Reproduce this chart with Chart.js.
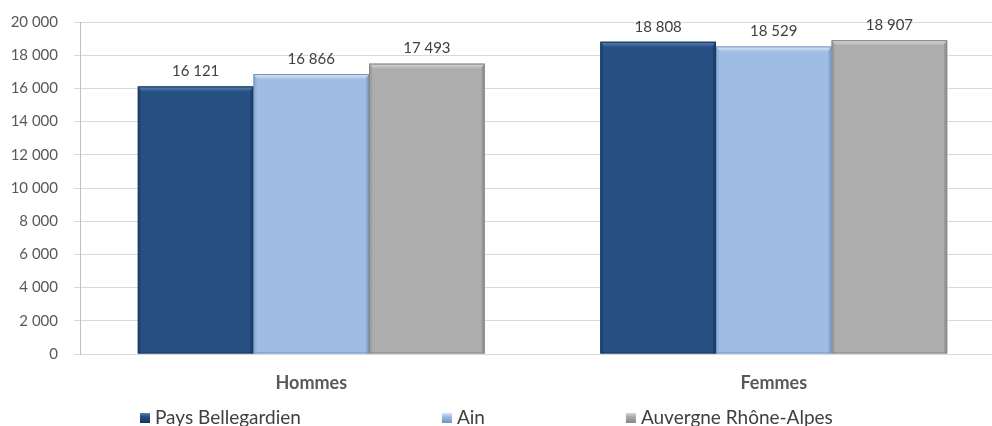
<!DOCTYPE html>
<html>
<head>
<meta charset="utf-8">
<script src="https://cdn.jsdelivr.net/npm/chart.js@4/dist/chart.umd.min.js"></script>
<style>
  html, body { margin: 0; padding: 0; background: #ffffff; overflow: hidden; }
  #wrap { position: relative; width: 1010px; height: 426px; }
</style>
</head>
<body>
<div id="wrap"><canvas id="c" width="1010" height="426"></canvas></div>
<script>
// Revenu médian par sexe (euros)
const categories = ['Hommes', 'Femmes'];
const seriesNames = ['Pays Bellegardien', 'Ain', 'Auvergne Rhône-Alpes'];
const paysBellegardien = [16121, 18808];
const ain = [16866, 18529];
const auvergneRhoneAlpes = [17493, 18907];
const yTicks = [0, 2000, 4000, 6000, 8000, 10000, 12000, 14000, 16000, 18000, 20000];

const fill = ['#264f82', '#9fbde3', '#adadad'];
const light = ['#5a82b6', '#dbe8f8', '#d8d8d8'];
const dark = ['#17345a', '#7394c0', '#858585'];

const fmt = v => String(Math.round(v)).replace(/\B(?=(\d{3})+(?!\d))/g, '\u00a0');
const FONT = 'Lato, Calibri, sans-serif';

// Bevel shading on top of each bar
const bevel = {
  id: 'bevel',
  afterDatasetsDraw(chart) {
    const ctx = chart.ctx;
    chart.data.datasets.forEach((ds, i) => {
      chart.getDatasetMeta(i).data.forEach(bar => {
        const l = bar.x - bar.width / 2, r = bar.x + bar.width / 2;
        const t = bar.y, b = bar.base;
        ctx.save();
        // top highlight strip
        const g = ctx.createLinearGradient(0, t, 0, t + 6);
        g.addColorStop(0, light[i]);
        g.addColorStop(1, fill[i]);
        ctx.fillStyle = g;
        ctx.beginPath();
        ctx.moveTo(l, t); ctx.lineTo(r, t); ctx.lineTo(r - 4, t + 5); ctx.lineTo(l + 4, t + 5);
        ctx.closePath(); ctx.fill();
        // side edges
        ctx.fillStyle = dark[i];
        ctx.globalAlpha = 0.55;
        ctx.beginPath();
        ctx.moveTo(r, t); ctx.lineTo(r, b); ctx.lineTo(r - 3, b); ctx.lineTo(r - 3, t + 4);
        ctx.closePath(); ctx.fill();
        ctx.globalAlpha = 0.3;
        ctx.beginPath();
        ctx.moveTo(l, t); ctx.lineTo(l + 3, t + 4); ctx.lineTo(l + 3, b); ctx.lineTo(l, b);
        ctx.closePath(); ctx.fill();
        ctx.globalAlpha = 1;
        ctx.strokeStyle = dark[i];
        ctx.lineWidth = 1;
        ctx.strokeRect(l + 0.5, t + 0.5, bar.width - 1, b - t - 1);
        ctx.restore();
      });
    });
  }
};

// Value labels above bars
const valueLabels = {
  id: 'valueLabels',
  afterDatasetsDraw(chart) {
    const ctx = chart.ctx;
    ctx.save();
    ctx.font = '15px ' + FONT;
    ctx.fillStyle = '#404040';
    ctx.textAlign = 'center';
    ctx.textBaseline = 'middle';
    chart.data.datasets.forEach((ds, i) => {
      chart.getDatasetMeta(i).data.forEach((bar, j) => {
        ctx.fillText(fmt(ds.data[j]), bar.x, bar.y - 15);
      });
    });
    ctx.restore();
  }
};

// Legend row along the bottom edge
const bottomLegend = {
  id: 'bottomLegend',
  afterDraw(chart) {
    const ctx = chart.ctx;
    const gap = 141;
    let x = chart.chartArea.left + 60;
    const y = 418;
    ctx.save();
    ctx.font = '19px ' + FONT;
    ctx.textBaseline = 'middle';
    chart.data.datasets.forEach((ds, i) => {
      const g = ctx.createLinearGradient(0, y - 5, 0, y + 5);
      g.addColorStop(0, light[i]);
      g.addColorStop(0.35, fill[i]);
      g.addColorStop(1, dark[i]);
      ctx.fillStyle = g;
      ctx.fillRect(x, y - 5, 10, 10);
      ctx.fillStyle = '#404040';
      ctx.fillText(ds.label, x + 15, y);
      x += 15 + ctx.measureText(ds.label).width + gap;
    });
    ctx.restore();
  }
};

new Chart(document.getElementById('c'), {
  type: 'bar',
  data: {
    labels: categories,
    datasets: [
      { label: seriesNames[0], data: paysBellegardien, backgroundColor: fill[0] },
      { label: seriesNames[1], data: ain, backgroundColor: fill[1] },
      { label: seriesNames[2], data: auvergneRhoneAlpes, backgroundColor: fill[2] }
    ]
  },
  options: {
    responsive: false,
    animation: false,
    layout: { padding: { top: 22, right: 5, left: 0, bottom: 0 } },
    categoryPercentage: 0.75,
    barPercentage: 1.0,
    plugins: { legend: { display: false }, tooltip: { enabled: false } },
    scales: {
      x: {
        grid: { display: false, drawTicks: false },
        border: { display: true, color: '#d9d9d9', width: 1 },
        ticks: { color: '#595959', font: { family: FONT, size: 18, weight: 'bold' }, padding: 18 },
        afterFit(s) { s.height = 72; }
      },
      y: {
        min: 0, max: 20000,
        afterBuildTicks(s) { s.ticks = yTicks.map(v => ({ value: v })); },
        grid: { color: '#d9d9d9', tickLength: 6 },
        border: { display: true, color: '#bfbfbf', width: 1 },
        ticks: { color: '#595959', font: { family: FONT, size: 15 }, padding: 16, callback: v => fmt(v) },
        afterFit(s) { s.width = 80; s.paddingTop = 0; s.paddingBottom = 0; }
      }
    }
  },
  plugins: [bevel, valueLabels, bottomLegend]
});
</script>
</body>
</html>
